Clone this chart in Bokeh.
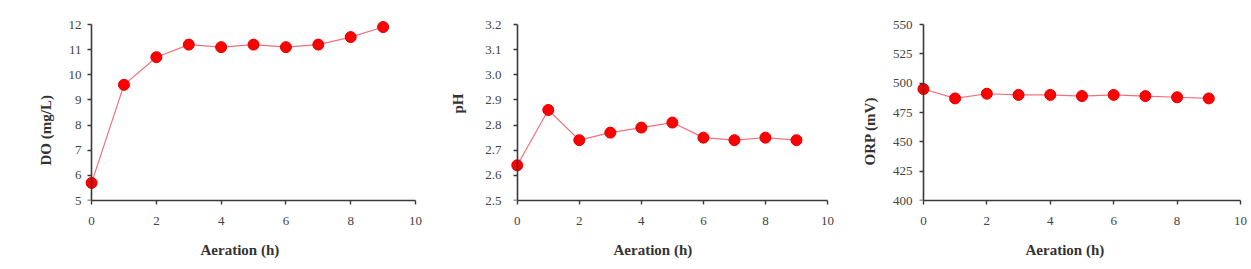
from bokeh.plotting import figure
from bokeh.layouts import row
from bokeh.models import Range1d, LinearAxis, FixedTicker, PrintfTickFormatter, Title
from bokeh.embed import file_html
from bokeh.resources import INLINE

# ---- data ----
aeration_h = [0, 1, 2, 3, 4, 5, 6, 7, 8, 9]
do_mg_l = [5.7, 9.6, 10.7, 11.2, 11.1, 11.2, 11.1, 11.2, 11.5, 11.9]
ph_values = [2.64, 2.86, 2.74, 2.77, 2.79, 2.81, 2.75, 2.74, 2.75, 2.74]
orp_mv = [495, 487, 491, 490, 490, 489, 490, 489, 488, 487]

x_ticks = [0, 2, 4, 6, 8, 10]
do_ticks = [5, 6, 7, 8, 9, 10, 11, 12]
ph_ticks = [2.5, 2.6, 2.7, 2.8, 2.9, 3.0, 3.1, 3.2]
orp_ticks = [400, 425, 450, 475, 500, 525, 550]

x_label = "Aeration (h)"
do_label = "DO (mg/L)"
ph_label = "pH"
orp_label = "ORP (mV)"

SERIF = "Liberation Serif"
TOP, FRAME_H, BOTTOM = 14, 186, 69
X_START = -0.25
AX_COL = "#3a3a3a"


def style(ax):
    ax.axis_line_color = AX_COL
    ax.axis_line_width = 1.6
    ax.major_tick_line_color = AX_COL
    ax.major_tick_line_width = 1.4
    ax.major_tick_in = 0
    ax.major_tick_out = 4
    ax.minor_tick_line_color = None
    ax.major_label_text_font = SERIF
    ax.major_label_text_font_size = "13px"
    ax.major_label_text_color = "#444444"


def mk_title(text, offset, standoff):
    return Title(text=text, align="left", offset=offset, standoff=standoff,
                 text_font=SERIF, text_font_style="bold",
                 text_font_size="15px", text_color="#333333")


def panel(yvals, yticks, ylabel, fmt, width, bl, br,
          lab_standoff, xt_off, yt_off, yt_standoff):
    ymin, ymax = yticks[0], yticks[-1]
    y_end = ymax + 10.0 * (ymax - ymin) / 176.0
    p = figure(width=width, height=TOP + FRAME_H + BOTTOM,
               x_range=Range1d(X_START, 10), y_range=Range1d(ymin, y_end),
               x_axis_type=None, y_axis_type=None,
               toolbar_location=None, output_backend="svg",
               min_border_left=bl, min_border_right=br,
               min_border_top=TOP, min_border_bottom=BOTTOM)
    p.outline_line_color = None
    p.background_fill_color = "white"
    p.border_fill_color = "white"

    xaxis = LinearAxis(ticker=FixedTicker(ticks=x_ticks), bounds=(0, 10))
    style(xaxis)
    xaxis.major_label_standoff = 12
    p.add_layout(xaxis, "below")
    p.add_layout(mk_title(x_label, xt_off, 24), "below")

    # tick labels at the frame edge (no line / ticks)
    ylab = LinearAxis(ticker=FixedTicker(ticks=yticks), bounds=(ymin, ymax),
                      formatter=PrintfTickFormatter(format=fmt))
    style(ylab)
    ylab.axis_line_color = None
    ylab.major_tick_line_color = None
    ylab.major_tick_out = 0
    ylab.major_label_standoff = lab_standoff
    p.add_layout(ylab, "left")
    p.add_layout(mk_title(ylabel, yt_off, yt_standoff), "left")

    # the axis line and ticks at x = 0
    yline = LinearAxis(ticker=FixedTicker(ticks=yticks), bounds=(ymin, ymax),
                       fixed_location=0)
    style(yline)
    yline.major_label_text_color = None
    yline.major_label_text_font_size = "1px"
    p.add_layout(yline, "left")

    p.line(aeration_h, yvals, line_color="#f0707c", line_width=1.2)
    p.scatter(aeration_h, yvals, size=11, fill_color="#ff0000",
              line_color="#e00000", line_width=1)
    return p


p1 = panel(do_mg_l, do_ticks, do_label, "%d", 430, 83, 15, 2, 117, 35, 24)
p2 = panel(ph_values, ph_ticks, ph_label, "%.1f", 415, 79, 18, 8, 104, 87, 33)
p3 = panel(orp_mv, orp_ticks, orp_label, "%d", 406, 70, 11, 3, 110, 35, 24)

layout = row(p1, p2, p3)
open("out.html", "w").write(file_html(layout, INLINE))
